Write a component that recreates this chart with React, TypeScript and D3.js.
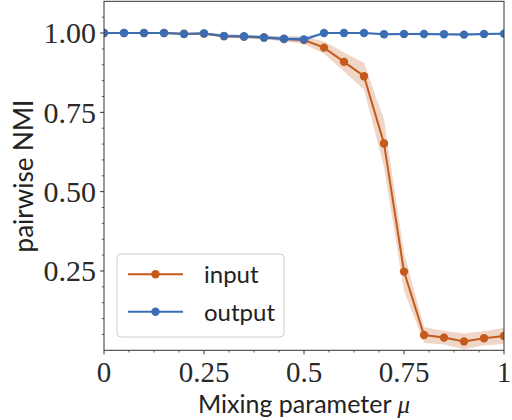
import React from "react";
import * as d3 from "d3";

const mu = [0, 0.05, 0.1, 0.15, 0.2, 0.25, 0.3, 0.35, 0.4, 0.45, 0.5, 0.55, 0.6, 0.65, 0.7, 0.75, 0.8, 0.85, 0.9, 0.95, 1.0];
const inputMean = [1.0, 1.0, 1.0, 1.0, 0.998, 0.998, 0.99, 0.988, 0.986, 0.981, 0.978, 0.954, 0.909, 0.864, 0.652, 0.248, 0.048, 0.04, 0.028, 0.038, 0.045];
const inputErr = [0.001, 0.001, 0.001, 0.001, 0.002, 0.002, 0.005, 0.005, 0.006, 0.007, 0.012, 0.019, 0.03, 0.042, 0.075, 0.06, 0.025, 0.022, 0.025, 0.022, 0.025];
const outputMean = [1.0, 1.0, 1.0, 1.0, 0.997, 0.999, 0.991, 0.99, 0.986, 0.982, 0.98, 1.0, 1.0, 1.0, 0.996, 0.997, 0.997, 0.996, 0.995, 0.997, 0.998];
const outputErr = [0.001, 0.001, 0.001, 0.001, 0.002, 0.002, 0.005, 0.005, 0.006, 0.007, 0.008, 0.002, 0.002, 0.002, 0.004, 0.004, 0.004, 0.004, 0.005, 0.004, 0.003];
const seriesNames = ["input", "output"];
const seriesColors = ["#c45a1c", "#3a6db4"];
const xTicks = [0, 0.25, 0.5, 0.75, 1];
const xTickLabels = ["0", "0.25", "0.5", "0.75", "1"];
const yTicks = [0.25, 0.5, 0.75, 1.0];
const yTickLabels = ["0.25", "0.50", "0.75", "1.00"];

const W = 512;
const H = 420;
const left = 104, right = 504, top = 1.3, bottom = 350.3;

export default function App() {
  const x = d3.scaleLinear().domain([0, 1]).range([left, right]);
  const y = d3.scaleLinear().domain([0, 1.1]).range([bottom, top]);

  const series = [
    { name: seriesNames[0], color: seriesColors[0], mean: inputMean, err: inputErr },
    { name: seriesNames[1], color: seriesColors[1], mean: outputMean, err: outputErr },
  ];

  const line = d3.line<number>().x((_, i) => x(mu[i])).y((d) => y(d));
  const xMinor = d3.range(0, 1.0001, 0.0625).filter((v) => !xTicks.some((t) => Math.abs(t - v) < 1e-6));
  const yMinor = d3.range(0.05, 1.0501, 0.05).filter((v) => !yTicks.some((t) => Math.abs(t - v) < 1e-6));

  const serif = "'Liberation Serif', 'DejaVu Serif', serif";
  const sans = "Lato, 'Liberation Sans', sans-serif";
  const axisColor = "#333";

  return (
    <svg width={W} height={H} style={{ position: "absolute", left: 0, top: 0, background: "#fff" }}>
      <rect x={0} y={0} width={W} height={H} fill="#fff" />
      <defs>
        <clipPath id="plotclip">
          <rect x={left} y={top} width={right - left} height={bottom - top} />
        </clipPath>
      </defs>
      <g clipPath="url(#plotclip)">
        {series.map((s) => {
          const area = d3
            .area<number>()
            .x((_, i) => x(mu[i]))
            .y0((d, i) => y(d - s.err[i]))
            .y1((d, i) => y(d + s.err[i]));
          return (
            <g key={s.name}>
              <path d={area(s.mean) || ""} fill={s.color} fillOpacity={0.25} stroke="none" />
              <path d={line(s.mean) || ""} fill="none" stroke={s.color} strokeWidth={2} />
              {s.mean.map((d, i) => (
                <circle key={i} cx={x(mu[i])} cy={y(d)} r={4.2} fill={s.color} />
              ))}
            </g>
          );
        })}
      </g>
      {/* spines */}
      <rect x={left} y={top} width={right - left} height={bottom - top} fill="none" stroke={axisColor} strokeWidth={1} />
      {/* x ticks */}
      {xTicks.map((t, i) => (
        <g key={"xt" + i}>
          <line x1={x(t)} x2={x(t)} y1={bottom} y2={bottom + 4} stroke={axisColor} strokeWidth={1} />
          <text x={x(t)} y={381.5} textAnchor="middle" fontFamily={serif} fontSize={29} fill="#2a2a2a">
            {xTickLabels[i]}
          </text>
        </g>
      ))}
      {xMinor.map((t, i) => (
        <line key={"xm" + i} x1={x(t)} x2={x(t)} y1={bottom} y2={bottom + 2.2} stroke={axisColor} strokeWidth={0.8} />
      ))}
      {/* y ticks */}
      {yTicks.map((t, i) => (
        <g key={"yt" + i}>
          <line x1={left - 4} x2={left} y1={y(t)} y2={y(t)} stroke={axisColor} strokeWidth={1} />
          <text x={96} y={y(t) + 10.4} textAnchor="end" fontFamily={serif} fontSize={30} fill="#2a2a2a">
            {yTickLabels[i]}
          </text>
        </g>
      ))}
      {yMinor.map((t, i) => (
        <line key={"ym" + i} x1={left - 2.2} x2={left} y1={y(t)} y2={y(t)} stroke={axisColor} strokeWidth={0.8} />
      ))}
      {/* axis labels */}
      <text x={304} y={413} textAnchor="middle" fontFamily={sans} fontSize={25} fill="#222">
        Mixing parameter{" "}
        <tspan fontFamily={serif} fontStyle="italic">μ</tspan>
      </text>
      <text transform={`translate(33,176) rotate(-90)`} textAnchor="middle" fontFamily={sans} fontSize={26} fill="#222">
        pairwise NMI
      </text>
      {/* legend */}
      <rect x={117} y={254} width={167} height={83} rx={4} ry={4} fill="#fff" fillOpacity={0.8} stroke="#ccc" strokeWidth={1} />
      {series.map((s, i) => {
        const ly = 274.3 + i * 37.4;
        return (
          <g key={"lg" + i}>
            <line x1={128} x2={183} y1={ly} y2={ly} stroke={s.color} strokeWidth={2} />
            <circle cx={155.5} cy={ly} r={4.2} fill={s.color} />
            <text x={204} y={ly + 9} fontFamily={sans} fontSize={24} fill="#222">
              {s.name}
            </text>
          </g>
        );
      })}
    </svg>
  );
}
